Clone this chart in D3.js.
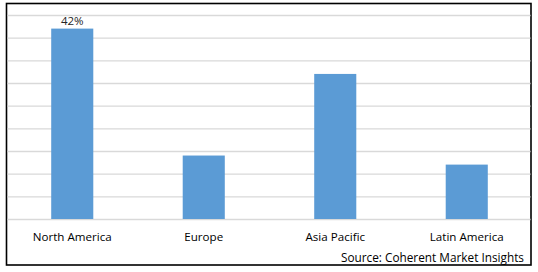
<!DOCTYPE html>
<html>
<head>
<meta charset="utf-8">
<script src="https://cdn.jsdelivr.net/npm/d3@7"></script>
<style>
  body { margin: 0; background: #fff; }
  svg { display: block; }
  text { font-family: "Open Sans", sans-serif; }
</style>
</head>
<body>
<div id="chart"></div>
<script>
var regions = ['North America', 'Europe', 'Asia Pacific', 'Latin America']
var shares = [42, 14, 32, 12]
var gridTicks = [0, 5, 10, 15, 20, 25, 30, 35, 40, 45]
var labelled = ['North America']

var width = 538, height = 272
var svg = d3.select('#chart')
            .append('svg')
              .attr('width', width)
              .attr('height', height)

// outer frame
svg.append('rect')
    .attr('x', 6.5)
    .attr('y', 3.5)
    .attr('width', 524.5)
    .attr('height', 261.5)
    .style('fill', 'white')
    .style('stroke', 'black')
    .style('stroke-width', '1.6px')

var x = d3.scaleBand()
          .domain(regions)
          .range([6.5, 532.5])
          .paddingInner(0.68)
          .paddingOuter(0.34)

var y = d3.scaleLinear()
          .domain([0, 45])
          .range([219, 15])

// gridlines
svg.append('g')
    .attr('transform', 'translate(7.5,0)')
    .call(d3.axisLeft(y).tickValues(gridTicks).tickSize(-523).tickFormat(''))
    .call(g => g.select('.domain').remove())
    .call(g => g.selectAll('line').style('stroke', '#d9d9d9').style('stroke-width', '1.3px'))

svg.selectAll('.bar')
    .data(shares)
    .enter().append('rect')
      .attr('class', 'bar')
      .attr('x', (d, i) => x(regions[i]))
      .attr('y', d => y(d))
      .attr('width', x.bandwidth())
      .attr('height', d => y(0) - y(d))
      .style('fill', '#5b9bd5')

// value label only on North America
svg.selectAll('.val')
    .data(shares.filter((d, i) => labelled.indexOf(regions[i]) >= 0))
    .enter().append('text')
      .attr('class', 'val')
      .attr('x', (d, i) => x(labelled[i]) + x.bandwidth() / 2)
      .attr('y', d => y(d) - 4)
      .attr('text-anchor', 'middle')
      .style('font-size', '11.5px')
      .style('fill', '#262626')
      .text(d => d + '%')

// category axis labels
svg.append('g')
    .attr('transform', 'translate(0,' + y(0) + ')')
    .call(d3.axisBottom(x).tickSize(0).tickPadding(14))
    .call(g => g.select('.domain').remove())
    .call(g => g.selectAll('text')
                .style('font-family', '"Open Sans", sans-serif')
                .style('font-size', '11.6px')
                .style('fill', '#000'))

svg.append('text')
    .attr('x', 524)
    .attr('y', 262)
    .attr('text-anchor', 'end')
    .style('font-size', '11.8px')
    .style('fill', '#000')
    .text('Source: Coherent Market Insights')
</script>
</body>
</html>
